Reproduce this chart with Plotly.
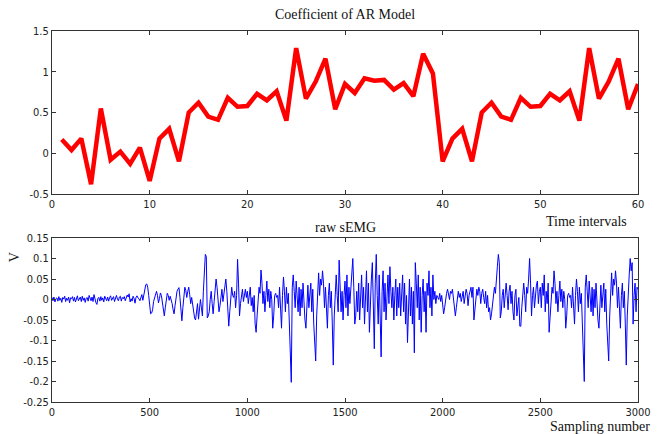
import numpy as np
import plotly.graph_objects as go

# ---- Top panel: AR model coefficient per time interval ----
intervals = list(range(1, 61))
ar_coef = [0.17, 0.04, 0.18, -0.38, 0.55, -0.08, 0.02, -0.13, 0.07, -0.34,
           0.18, 0.30, -0.10, 0.50, 0.62, 0.45, 0.41, 0.68, 0.57, 0.58,
           0.73, 0.65, 0.76, 0.40, 1.29, 0.67, 0.88, 1.16, 0.54, 0.85,
           0.74, 0.92, 0.89, 0.90, 0.78, 0.86, 0.70, 1.22, 0.98, -0.10,
           0.18, 0.30, -0.10, 0.50, 0.62, 0.45, 0.41, 0.68, 0.57, 0.58,
           0.73, 0.65, 0.76, 0.40, 1.29, 0.67, 0.88, 1.16, 0.54, 0.85]

# ---- Bottom panel: raw sEMG (values in 1e-3 V, one every 5 samples) ----
sample_step = 5
emg_0000 = [5, -3, 6, -6, 2, 4, -4, 7, -2, 3, -7, 5, 1, 8, -5, 3, -2, 6, -8, 4,
            2, 7, -4, 5, -6, 3, 9, -3, 1, 6, -5, 8, -2, 4, -7, 3, 5, -4, 10, 2,
            -3, 6, -5, 12, 1, -8, -12, 3, 5, -4, 7, -2, 4, -6, 8, 2, -3, 6, -4, 5,
            9, -2, 4, 7, -5, 3, 10, 1, -3, 6, 8, -4, 5, 2, 7, -3, 4, 11, 6, 14,
            -6, 2, -4, 8, 3, -9, 5, 9, 4, 2, -3, 6, 12, -2, 15, 28, 36, 38, 30, 10]
emg_0500 = [-20, -35, -33, -25, -5, 5, 15, 20, 10, -8, 2, 16, 10, -12, -30, -40, -20, 5, 15, 10,
            -2, 8, 0, -10, -25, -35, -15, 12, 20, 25, 29, 5, -30, -52, -20, 10, 30, 22, 5, 20,
            30, 12, -10, 5, -15, -35, -45, -50, -30, -10, -48, -25, 0, -20, -40, 20, 80, 110, 105, -45,
            -40, -30, 0, 20, -10, -35, -5, 20, 50, 30, -10, -30, -15, 10, 25, -5, 15, 35, 50, 20,
            -40, -65, -30, 0, 30, 10, 5, 20, -20, 10, 98, 40, -40, -10, 15, 25, -5, 15, 25, 5]
emg_1000 = [20, -10, 15, 30, -15, 5, -30, 10, -60, -80, -40, 10, 30, 15, 72, 40, -10, 20, -30, 10,
            45, -5, 25, -20, 20, 0, -70, -40, 10, 15, 5, 10, -20, 30, -40, -70, 10, 55, 20, -30,
            30, -10, 15, -60, -120, -202, 30, 60, 20, -20, 45, 10, -30, 30, -40, 25, -20, 40, -30, -50,
            -70, 10, 35, -20, 20, 40, -30, 25, -60, -100, -150, -40, 20, 65, 10, 50, 35, 70, 40, -20,
            30, -30, -70, 10, 40, -20, 20, -60, -160, -40, 30, 60, 10, -30, 96, 40, -30, 20, -50, 10]
emg_1500 = [45, -20, 60, -40, 30, -10, 20, 50, 100, 30, -60, -40, 20, -30, 40, -50, 10, 60, -20, 30,
            -60, 20, 70, -30, 40, -80, 10, 50, 90, -20, -120, 40, 110, 10, -60, 60, -20, -140, 20, 70,
            -30, 40, -50, 20, 60, -10, 80, 20, -20, 30, -50, 10, 50, -40, 30, -20, 40, -40, 20, 60,
            -30, 40, -60, 10, -105, -20, 50, -40, 30, -60, 20, -130, 90, 40, -20, 60, -50, 30, -80, 10,
            50, -30, 20, -80, 40, 10, 70, -20, 30, -40, 60, 0, 20, -10, 10, 5, 0, 15, -5, 10]
emg_2000 = [-10, -35, -20, 5, 15, 25, 10, 0, 20, 15, 25, 5, -15, -40, -20, 10, 20, 5, 15, -5,
            10, 20, -10, 5, 25, 15, -15, 10, 25, 30, 5, 30, -50, -20, 15, 25, 10, 30, 20, -10,
            15, 25, 5, -10, 20, -20, 10, -30, -20, -50, -35, -10, 10, 30, 15, 40, 80, 110, 90, -45,
            -30, 10, 25, -20, 15, 40, 10, -25, 20, 35, -10, 20, -30, -50, 10, 25, -40, -20, 5, -65,
            -65, -20, 20, 40, 10, -30, 30, 15, 50, 100, 40, -40, 10, 30, -20, 15, 35, 45, -10, 20]
emg_2500 = [30, -20, 40, 10, 60, -30, 20, -10, 40, -80, -40, 10, 30, 15, 70, 40, -10, 20, -30, 10,
            45, -5, 25, -20, 20, 0, -70, -40, 10, 15, 5, 10, -20, 30, -40, -60, 10, 50, 20, -30,
            30, -10, 15, -60, -120, -200, 30, 60, 20, -20, 45, 10, -30, 30, -40, 25, -20, 40, -30, -50,
            -70, 10, 35, -20, 20, 40, -30, 25, -60, -100, -150, -40, 20, 65, 10, 50, 35, 70, 40, -20,
            30, -30, -70, 10, 40, -20, 20, -60, -160, -40, 30, 60, 100, 70, 90, -60, 10, 40, -30, 30,
            25]

emg_mv = emg_0000 + emg_0500 + emg_1000 + emg_1500 + emg_2000 + emg_2500
emg_v = np.array(emg_mv) / 1000.0
samples = np.arange(len(emg_v)) * sample_step

top_yticks = [-0.5, 0, 0.5, 1, 1.5]
top_yticklabels = ["-0.5", "0", "0.5", "1", "1.5"]
top_xticks = [0, 10, 20, 30, 40, 50, 60]
bot_yticks = [-0.25, -0.2, -0.15, -0.1, -0.05, 0, 0.05, 0.1, 0.15]
bot_yticklabels = ["-0.25", "-0.2", "-0.15", "-0.1", "-0.05", "0", "0.05", "0.1", "0.15"]
bot_xticks = [0, 500, 1000, 1500, 2000, 2500, 3000]

tick_font = dict(family="DejaVu Sans Condensed, Liberation Sans Narrow, Liberation Sans, sans-serif",
                 size=11, color="#222222")
serif = dict(family="Liberation Serif, Times New Roman, serif", size=14, color="#111111")

fig = go.Figure()
fig.add_trace(go.Scatter(x=intervals, y=ar_coef, mode="lines",
                         line=dict(color="#ff0000", width=4.5),
                         xaxis="x", yaxis="y", showlegend=False))
fig.add_trace(go.Scatter(x=samples, y=emg_v, mode="lines",
                         line=dict(color="#0000ff", width=1),
                         xaxis="x2", yaxis="y2", showlegend=False))

axis_common = dict(showline=True, linecolor="#333333", linewidth=1, mirror="ticks",
                   ticks="inside", ticklen=4, tickcolor="#333333", showgrid=False,
                   zeroline=False, tickfont=tick_font, automargin=False)

fig.update_layout(
    width=657, height=434,
    margin=dict(l=52, r=19, t=31, b=32, autoexpand=False),
    paper_bgcolor="white", plot_bgcolor="white",
    xaxis=dict(domain=[0, 1], range=[0, 60], tickvals=top_xticks, anchor="y", **axis_common),
    yaxis=dict(domain=[0.5606, 1.0], range=[-0.5, 1.5], tickvals=top_yticks,
               ticktext=top_yticklabels, anchor="x", **axis_common),
    xaxis2=dict(domain=[0, 1], range=[0, 3000], tickvals=bot_xticks, anchor="y2", **axis_common),
    yaxis2=dict(domain=[0, 0.442], range=[-0.25, 0.15], tickvals=bot_yticks,
                ticktext=bot_yticklabels, anchor="x2", **axis_common),
    annotations=[
        dict(text="Coefficient of AR Model", xref="paper", yref="paper", x=0.5, y=1.0,
             yshift=7, xanchor="center", yanchor="bottom", showarrow=False, font=serif),
        dict(text="Time intervals", xref="paper", yref="paper", x=0.985, y=0.5606,
             yshift=-18, xanchor="right", yanchor="top", showarrow=False, font=serif),
        dict(text="raw sEMG", xref="paper", yref="paper", x=0.5, y=0.442,
             yshift=1, xanchor="center", yanchor="bottom", showarrow=False, font=serif),
        dict(text="V", xref="paper", yref="paper", x=0, xshift=-38, y=0.39,
             xanchor="center", yanchor="middle", textangle=-90, showarrow=False, font=serif),
        dict(text="Sampling number", xref="paper", yref="paper", x=1.0, xshift=14, y=0,
             yshift=-15, xanchor="right", yanchor="top", showarrow=False, font=serif),
    ],
)

fig.write_html(
    "out.html",
    config={"displayModeBar": False},
    post_script="document.body.style.margin='0';document.body.style.overflow='hidden';",
)
